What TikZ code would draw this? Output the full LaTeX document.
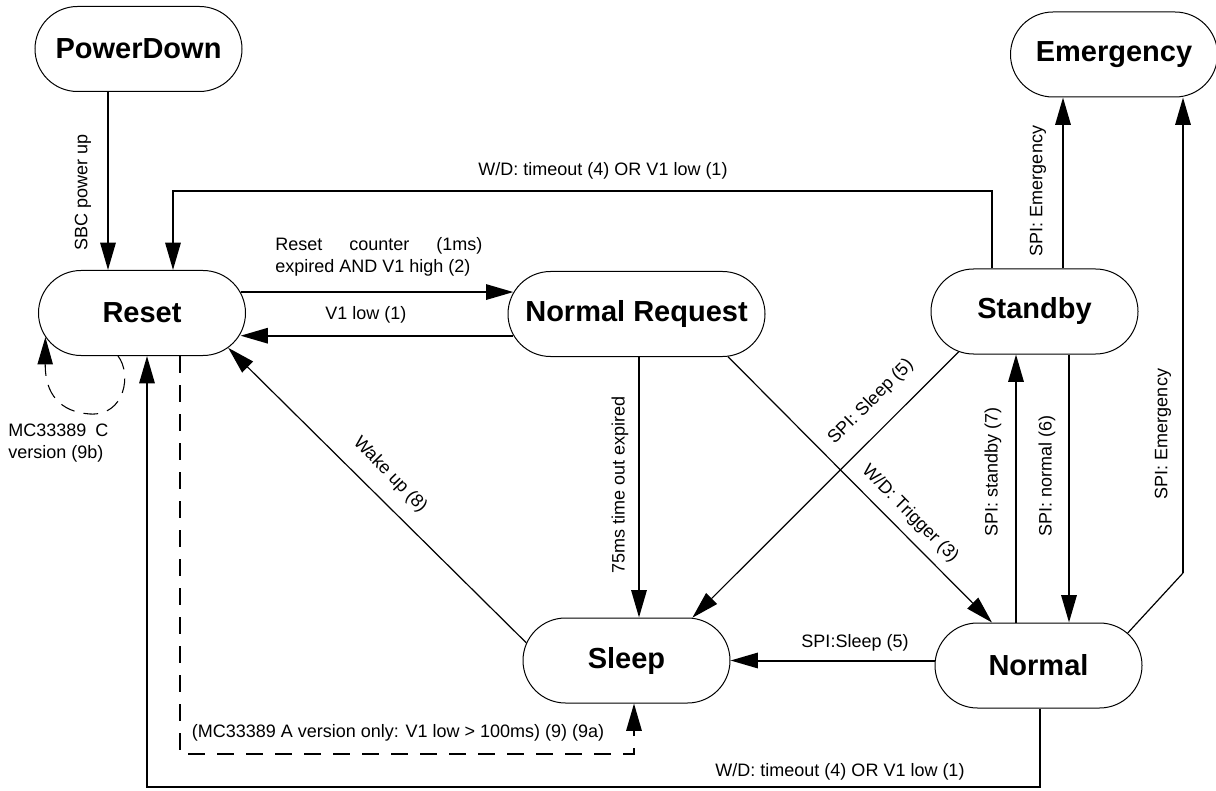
\documentclass[tikz,border=0pt]{standalone}
\usepackage{fontspec}
\setmainfont{Liberation Sans}
\usetikzlibrary{arrows.meta,shapes.misc}
\begin{document}
\begin{tikzpicture}[x=0.75pt,y=-0.75pt,
  state/.style={rounded rectangle, draw, line width=0.75pt, minimum width=155.25pt,
    minimum height=63.75pt, inner sep=0pt, font=\fontsize{21.75}{26}\selectfont\bfseries},
  lbl/.style={font=\fontsize{13.5}{16}\selectfont, inner sep=0pt},
  tip/.style={-{Triangle[length=20.5pt,width=11.5pt]}},
  arr/.style={line width=1.5pt, tip},
  arrthin/.style={line width=0.9pt, tip},
  thinline/.style={line width=0.9pt},
  dashline/.style={line width=1.5pt, dash pattern=on 12.75pt off 9pt, tip},
  loopline/.style={line width=0.8pt, dash pattern=on 11pt off 7pt, tip},
]
\useasboundingbox (0,0) rectangle (1216,791);

% states
\node[state] (PD) at (138.5,49) {PowerDown};
\node[state] (E) at (1114,54.5) {Emergency};
\node[state] (R) at (142,313) {Reset};
\node[state, minimum width=192.75pt] (NR) at (636.5,314) {Normal Request};
\node[state] (Sb) at (1034.5,311.5) {Standby};
\node[state] (Sl) at (626.5,660.5) {Sleep};
\node[state] (N) at (1038.5,665.5) {Normal};

% routing coordinates
\coordinate (c108) at (108,0);
\coordinate (tl) at (173,191);
\coordinate (tr) at (992,191);
\coordinate (c1063) at (1063,0);
\coordinate (c639) at (639,0);
\coordinate (c1016) at (1016,0);
\coordinate (c1069) at (1069,0);
\coordinate (trg) at (992,0);
\coordinate (ec) at (1183,573);
\coordinate (bl) at (147,787);
\coordinate (br) at (1040,787);
\coordinate (dl) at (180,754);
\coordinate (dr) at (634,754);
\coordinate (lp) at (118,0);

% connectors
\draw[arr] (PD.south -| c108) -- (R.north -| c108);
\draw[arr] (Sb.north -| tr) -- (tr) -- (tl) -- (R.north -| tl);
\draw[arr] (R.12) -- (R.12 -| NR.170);
\draw[arr] (NR.190) -- (NR.190 -| R.-12);
\draw[arr] (NR.south -| c639) -- (Sl.north -| c639);
\draw[arrthin] (NR.-25) -- (N.north -| trg);
\draw[arrthin] (Sb.208) -- (Sl.33);
\draw[arrthin] (Sl.170) -- (R.-22);
\draw[arr] (Sl.east -| N.west) -- (Sl.east);
\draw[arr] (N.north -| c1016) -- (Sb.south -| c1016);
\draw[arr] (Sb.south -| c1069) -- (N.north -| c1069);
\draw[arr] (Sb.north -| c1063) -- (E.south -| c1063);
\draw[thinline] (N.20) -- (ec);
\draw[arr] (ec) -- (E.south -| ec);
\draw[arr] (N.south -| br) -- (br) -- (bl) -- (R.south -| bl);
\draw[dashline] (R.south -| dl) -- (dl) -- (dr) -- (Sl.south -| dr);
\draw[loopline] (R.south -| lp) .. controls (132,374) and (125,416) .. (90,414)
  .. controls (60,412) and (45,394) .. (R.194);

% labels
\node[lbl, rotate=90] (lsbc) at (83,192) {SBC power up};
\node[lbl] (lwdtop) at (603,171) {W/D: timeout (4) OR V1 low (1)};
\node[lbl, anchor=west, align=left] (lrc) at (275,257)
  {\makebox[155.25pt][s]{Reset counter (1ms)}\\expired AND V1 high (2)};
\node[lbl] (lv1) at (366,315) {V1 low (1)};
\node[lbl, rotate=90] (l75) at (620,485) {75ms time out expired};
\node[lbl, rotate=-45] (ltrg) at (910,514) {W/D: Trigger (3)};
\node[lbl, rotate=45] (lss5) at (871,402) {SPI: Sleep (5)};
\node[lbl, rotate=-46] (lwake) at (390,475) {Wake up (8)};
\node[lbl, rotate=90] (lsb7) at (993,472) {SPI: standby (7)};
\node[lbl, rotate=90] (ln6) at (1047,476) {SPI: normal (6)};
\node[lbl, rotate=90] (lemr) at (1163,434) {SPI: Emergency};
\node[lbl, rotate=90] (lemt) at (1038,191) {SPI: Emergency};
\node[lbl] (lsn5) at (855,643) {SPI:Sleep (5)};
\node[lbl] (lwdbot) at (840,772) {W/D: timeout (4) OR V1 low (1)};
\node[lbl] (ldash) at (398,733) {(MC33389 A version only: V1 low > 100ms) (9) (9a)};
\node[lbl, anchor=west, align=left] (lmcc) at (8,443) {MC33389\enspace C\\version (9b)};
\end{tikzpicture}
\end{document}
